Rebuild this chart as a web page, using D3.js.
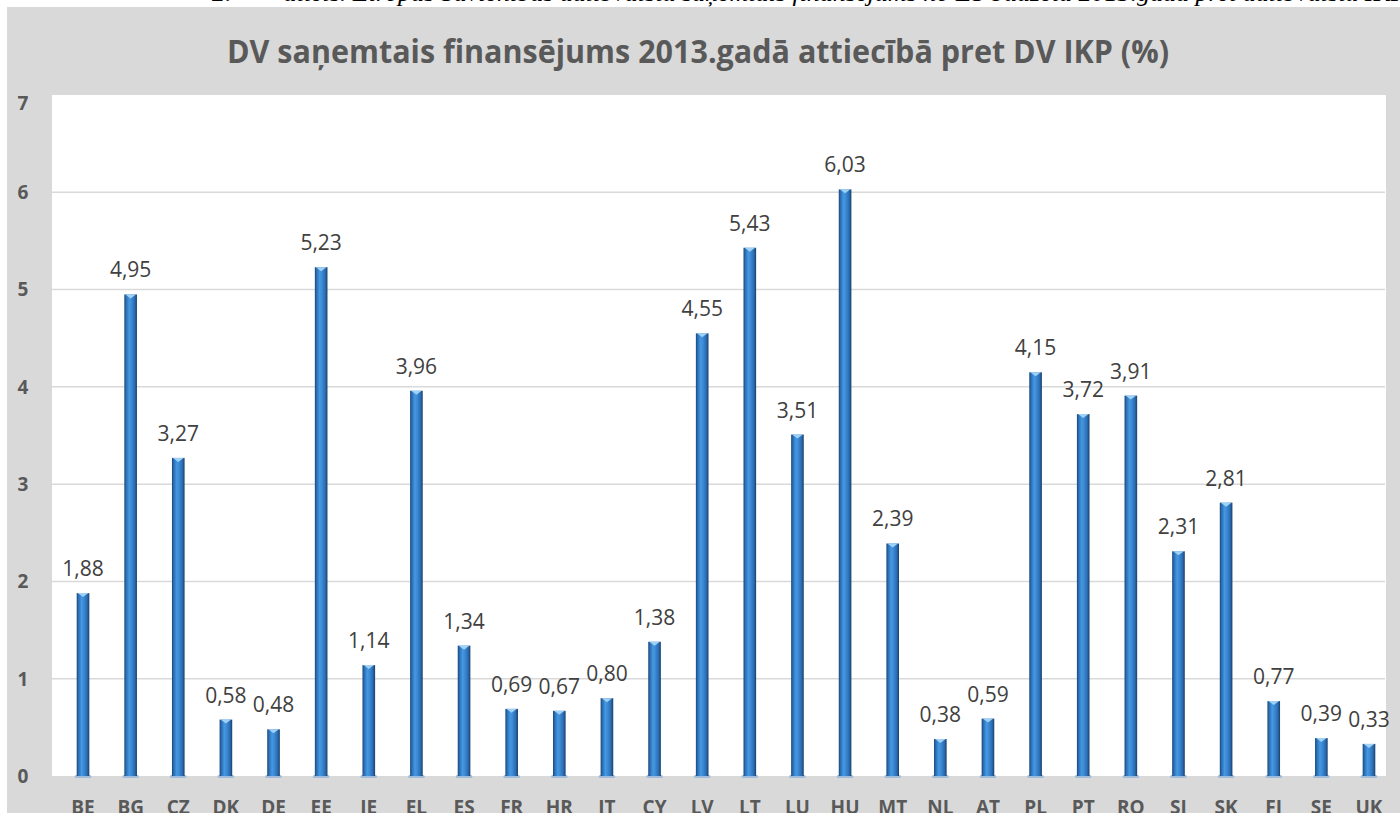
<!DOCTYPE html>
<html>
<head>
<meta charset="utf-8">
<script src="https://cdn.jsdelivr.net/npm/d3@7"></script>
<style>
  html, body { margin: 0; padding: 0; background: #fff; overflow: hidden; }
</style>
</head>
<body>
<div id="chart"></div>
<script>
var countries = ["BE", "BG", "CZ", "DK", "DE", "EE", "IE", "EL", "ES", "FR", "HR", "IT", "CY", "LV",
  "LT", "LU", "HU", "MT", "NL", "AT", "PL", "PT", "RO", "SI", "SK", "FI", "SE", "UK"];
var shares = [1.88, 4.95, 3.27, 0.58, 0.48, 5.23, 1.14, 3.96, 1.34, 0.69, 0.67, 0.80, 1.38, 4.55,
  5.43, 3.51, 6.03, 2.39, 0.38, 0.59, 4.15, 3.72, 3.91, 2.31, 2.81, 0.77, 0.39, 0.33];
var yTicks = [0, 1, 2, 3, 4, 5, 6, 7];
var chartTitle = "DV saņemtais finansējums 2013.gadā attiecībā pret DV IKP (%)";
var caption = "2.\u2003\u2003attēls. Eiropas Savienības dalībvalstu saņemtais finansējums no ES budžeta 2013.gadā pret dalībvalstu IKP";

var W = 1400, H = 813;
var plot = {left: 52, right: 1386, top: 95, bottom: 776};

var svg = d3.select("#chart")
  .append("svg")
  .attr("width", W)
  .attr("height", H);

// caption of the document, mostly hidden behind the chart frame
svg.append("text")
  .attr("x", 212)
  .attr("y", 1)
  .attr("font-family", "'Liberation Serif', serif")
  .attr("font-style", "italic")
  .attr("font-size", "26px")
  .attr("fill", "#000")
  .text(caption);

svg.append("rect")
  .attr("x", 7).attr("y", 7)
  .attr("width", W - 7).attr("height", H - 7)
  .attr("fill", "#d9d9d9");

svg.append("rect")
  .attr("x", plot.left).attr("y", plot.top)
  .attr("width", plot.right - plot.left).attr("height", plot.bottom - plot.top)
  .attr("fill", "#ffffff");

var defs = svg.append("defs");
var grad = defs.append("linearGradient")
  .attr("id", "barGrad")
  .attr("x1", "0%").attr("x2", "100%")
  .attr("y1", "0%").attr("y2", "0%");
[["0%", "#1a4675"], ["14%", "#2b6db3"], ["38%", "#4598e2"], ["56%", "#3c8ad6"],
 ["82%", "#2b6cb0"], ["100%", "#183f6a"]].forEach(function(s) {
  grad.append("stop").attr("offset", s[0]).attr("stop-color", s[1]);
});

var x = d3.scaleBand()
  .domain(countries)
  .range([59.2, 1392.8])
  .paddingInner(0.735)
  .paddingOuter(0.3675);

var y = d3.scaleLinear()
  .domain([0, 7])
  .range([plot.bottom, plot.top]);

// gridlines
svg.append("g")
  .selectAll("line")
  .data(yTicks.slice(1, -1))
  .enter().append("line")
  .attr("x1", plot.left).attr("x2", plot.right - 1)
  .attr("y1", function(d) { return y(d); })
  .attr("y2", function(d) { return y(d); })
  .attr("stroke", "#d9d9d9")
  .attr("stroke-width", 1.5);

// y labels
svg.append("g")
  .selectAll("text")
  .data(yTicks)
  .enter().append("text")
  .attr("x", 23)
  .attr("y", function(d) { return y(d) + (d === 7 ? 8 : 0); })
  .attr("dy", "0.36em")
  .attr("text-anchor", "middle")
  .attr("font-family", "'Open Sans', sans-serif")
  .attr("font-weight", "bold")
  .attr("font-size", "19px")
  .attr("fill", "#595959")
  .text(function(d) { return d; });

var data = countries.map(function(c, i) { return {country: c, value: shares[i]}; });

var bars = svg.append("g")
  .selectAll("g")
  .data(data)
  .enter().append("g");

// light foot under each bar
bars.append("rect")
  .attr("x", function(d) { return x(d.country) - 2; })
  .attr("y", plot.bottom - 1)
  .attr("width", x.bandwidth() + 4)
  .attr("height", 3)
  .attr("rx", 1.5)
  .attr("fill", "#9fbddb");

bars.append("rect")
  .attr("x", function(d) { return x(d.country); })
  .attr("y", function(d) { return y(d.value); })
  .attr("width", x.bandwidth())
  .attr("height", function(d) { return y(0) - y(d.value); })
  .attr("fill", "url(#barGrad)");

// bevel at bar top
bars.append("path")
  .attr("d", function(d) {
    var x0 = x(d.country), w = x.bandwidth(), t = y(d.value);
    return "M" + (x0 + 1) + "," + t + "L" + (x0 + w - 1) + "," + t +
      "L" + (x0 + w / 2) + "," + (t + 4) + "Z";
  })
  .attr("fill", "#9fd0f5");

bars.append("text")
  .attr("x", function(d) { return x(d.country) + x.bandwidth() / 2; })
  .attr("y", function(d) { return y(d.value) - 17; })
  .attr("text-anchor", "middle")
  .attr("font-family", "'Open Sans', sans-serif")
  .attr("font-size", "21px")
  .attr("fill", "#404040")
  .text(function(d) { return d3.format(".2f")(d.value).replace(".", ","); });

// x labels
svg.append("g")
  .selectAll("text")
  .data(countries)
  .enter().append("text")
  .attr("x", function(d) { return x(d) + x.bandwidth() / 2; })
  .attr("y", 814)
  .attr("text-anchor", "middle")
  .attr("font-family", "'Open Sans', sans-serif")
  .attr("font-weight", "bold")
  .attr("font-size", "19px")
  .attr("fill", "#595959")
  .text(function(d) { return d; });

svg.append("text")
  .attr("x", 698)
  .attr("y", 63)
  .attr("text-anchor", "middle")
  .attr("textLength", 942)
  .attr("lengthAdjust", "spacingAndGlyphs")
  .attr("font-family", "'Open Sans', sans-serif")
  .attr("font-weight", "bold")
  .attr("font-size", "33px")
  .attr("fill", "#595959")
  .text(chartTitle);
</script>
</body>
</html>
